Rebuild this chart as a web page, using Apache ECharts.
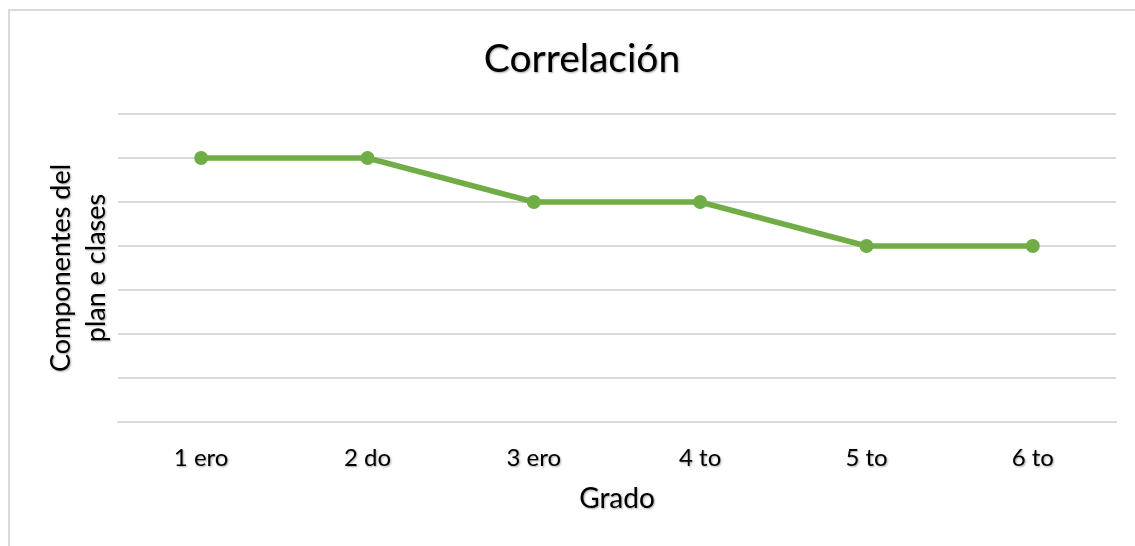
<!DOCTYPE html>
<html>
<head>
<meta charset="utf-8">
<script src="https://cdn.jsdelivr.net/npm/echarts@6/dist/echarts.min.js"></script>
<style>
html,body{margin:0;padding:0;background:#fff;}
#frame{position:absolute;left:8px;top:9px;width:1140px;height:560px;border:2px solid #d9d9d9;box-sizing:border-box;}
#chart{position:absolute;left:0;top:0;width:1135px;height:546px;}
</style>
</head>
<body>
<div id="frame"></div>
<div id="chart"></div>
<script>
var categories = ['1 ero', '2 do', '3 ero', '4 to', '5 to', '6 to'];
var values = [6, 6, 5, 5, 4, 4];
var chartTitle = 'Correlación';
var xName = 'Grado';
var yName = 'Componentes del\nplan e clases';

var shadow = {textShadowColor: 'rgba(0,0,0,0.35)', textShadowBlur: 2, textShadowOffsetX: 1, textShadowOffsetY: 1};
var font = 'Lato, "Open Sans", sans-serif';

var chart = echarts.init(document.getElementById('chart'));
chart.setOption({
  animation: false,
  backgroundColor: 'transparent',
  title: {
    text: chartTitle, left: 577, top: 35, textAlign: 'center',
    textStyle: Object.assign({fontFamily: font, fontSize: 39, fontWeight: 'normal', color: '#000'}, shadow)
  },
  grid: {left: 118, right: 19, top: 114, bottom: 124},
  xAxis: {
    type: 'category', data: categories, boundaryGap: true,
    name: xName, nameLocation: 'middle', nameGap: 63,
    nameTextStyle: Object.assign({fontFamily: font, fontSize: 28, color: '#000'}, shadow),
    axisLine: {show: true, lineStyle: {color: '#d9d9d9', width: 2}},
    axisTick: {show: false},
    axisLabel: Object.assign({fontFamily: font, fontSize: 24, color: '#000', margin: 24}, shadow)
  },
  yAxis: {
    type: 'value', min: 0, max: 7, interval: 1,
    name: yName, nameLocation: 'middle', nameGap: 4, nameRotate: 90,
    nameTextStyle: Object.assign({fontFamily: font, fontSize: 27, color: '#000', lineHeight: 35}, shadow),
    axisLine: {show: false}, axisTick: {show: false},
    axisLabel: {show: false},
    splitLine: {lineStyle: {color: '#d9d9d9', width: 2}}
  },
  series: [{
    type: 'line', data: values,
    lineStyle: {color: '#70AD47', width: 5.5},
    itemStyle: {color: '#70AD47'},
    symbol: 'circle', symbolSize: 14
  }]
});
</script>
</body>
</html>
